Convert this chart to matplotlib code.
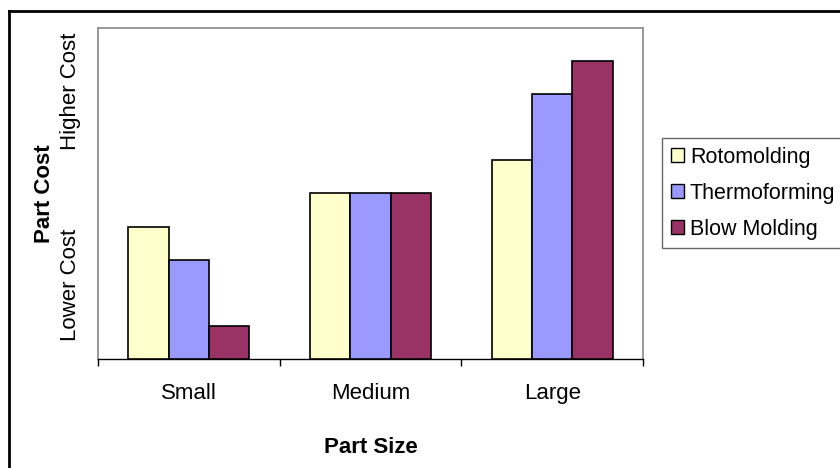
import matplotlib.pyplot as plt
from matplotlib.lines import Line2D
import numpy as np

plt.rcParams['font.family'] = ['Liberation Sans', 'DejaVu Sans']

# relative part cost by process and part size
sizes = ['Small', 'Medium', 'Large']
processes = ['Rotomolding', 'Thermoforming', 'Blow Molding']
rotomolding = [4, 5, 6]
thermoforming = [3, 5, 8]
blow_molding = [1, 5, 9]
colors = ['#FFFFCC', '#9999FF', '#993366']

cost_ticks = [2.24, 8.1]
cost_labels = ['Lower Cost', 'Higher Cost']

fs = 16

fig = plt.figure(figsize=(8.4, 4.68), dpi=100)
ax = fig.add_axes([0.1167, 0.2329, 0.6488, 0.7073])

x = np.arange(len(sizes))
width = 1 / 4.5
series = [rotomolding, thermoforming, blow_molding]
for i, (vals, name, col) in enumerate(zip(series, processes, colors)):
    ax.bar(x + (i - 1) * width, vals, width, color=col, edgecolor='black',
           linewidth=1.2, label=name, zorder=3)

ax.set_xlim(-0.5, len(sizes) - 0.5)
ax.set_ylim(0, 10)

# category labels in the middle, tick marks on the boundaries
ax.set_xticks(x, sizes)
ax.set_xticks(np.arange(len(sizes) + 1) - 0.5, minor=True)
ax.tick_params(axis='x', which='major', length=0, pad=17, labelsize=fs)
ax.tick_params(axis='x', which='minor', length=5, width=1, color='black')

ax.set_yticks(cost_ticks, cost_labels, rotation=90, va='center')
ax.tick_params(axis='y', length=0, pad=12, labelsize=fs)

for side in ['left', 'top', 'right']:
    ax.spines[side].set_color('#909090')
    ax.spines[side].set_linewidth(1.3)
ax.spines['bottom'].set_color('black')
ax.spines['bottom'].set_linewidth(1)

ax.set_xlabel('Part Size', fontsize=fs, fontweight='bold')
ax.xaxis.set_label_coords(0.5, -0.235)
ax.set_ylabel('Part Cost', fontsize=fs, fontweight='bold')
ax.yaxis.set_label_coords(-0.079, 0.5)

leg = fig.legend(loc='upper left', bbox_to_anchor=(662 / 840, 1 - 138 / 468),
                 fontsize=15.5, frameon=True, fancybox=False, shadow=False,
                 handlelength=0.6, handleheight=0.6, handletextpad=0.3,
                 labelspacing=0.7, borderpad=0.4, borderaxespad=0)
leg.get_frame().set_edgecolor('#404040')
leg.get_frame().set_linewidth(1)
for h in leg.legend_handles:
    h.set_linewidth(1)

# outer chart border
fig.add_artist(Line2D([9 / 840, 1], [1 - 11 / 468, 1 - 11 / 468],
                      color='black', linewidth=2, transform=fig.transFigure))
fig.add_artist(Line2D([9 / 840, 9 / 840], [0, 1 - 11 / 468],
                      color='black', linewidth=2, transform=fig.transFigure))

fig.savefig('out.png', dpi=100)
